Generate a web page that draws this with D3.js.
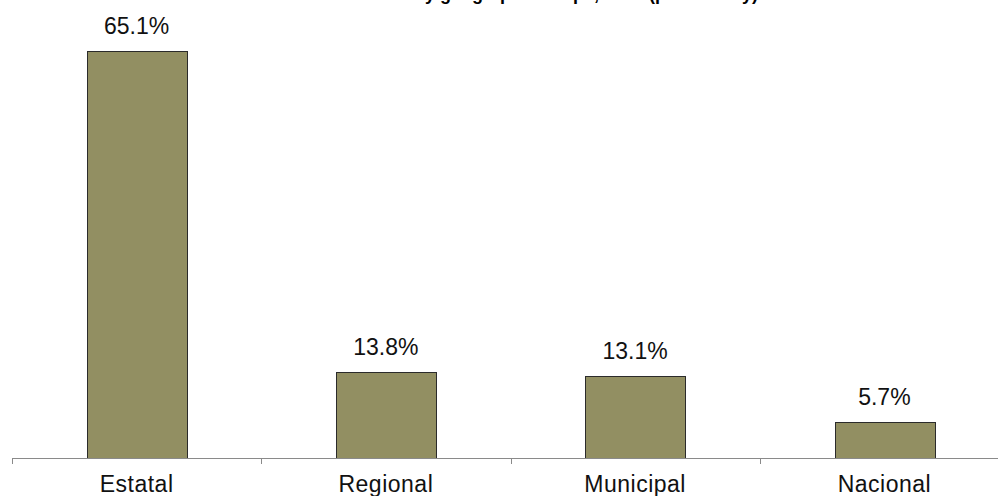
<!DOCTYPE html>
<html><head><meta charset="utf-8">
<script src="https://cdn.jsdelivr.net/npm/d3@7"></script>
<style>html,body{margin:0;padding:0;background:#fff;}svg{display:block;}</style>
</head><body>
<script>
const categories = ["Estatal", "Regional", "Municipal", "Nacional"];
const values = [65.1, 13.8, 13.1, 5.7];
const labels = ["65.1%", "13.8%", "13.1%", "5.7%"];
const title = "Distribution by geographic scope, 2012 (preliminary)";

const W = 998, H = 496;
const svg = d3.select("body").append("svg").attr("width", W).attr("height", H);

const x = d3.scaleBand().domain(categories).range([12, 1009]).paddingInner(0.6).paddingOuter(0.3);
const y = d3.scaleLinear().domain([0, 65.1]).range([458, 51]);

svg.append("text").attr("x", 533).attr("y", 0).attr("text-anchor", "middle")
  .attr("font-family", "Liberation Sans, Arial, sans-serif").attr("font-weight", "bold")
  .attr("font-size", 18).attr("fill", "#000").text(title);

svg.selectAll("rect.bar").data(values).join("rect").attr("class", "bar")
  .attr("x", (d, i) => Math.round(x(categories[i])) + 0.5)
  .attr("y", d => Math.round(y(d)) + 0.5)
  .attr("width", Math.round(x.bandwidth()))
  .attr("height", d => Math.round(y(0)) - Math.round(y(d)))
  .attr("fill", "#928f62").attr("stroke", "#2b2b2b").attr("stroke-width", 1);

svg.selectAll("text.val").data(values).join("text").attr("class", "val")
  .attr("x", (d, i) => x(categories[i]) + x.bandwidth() / 2)
  .attr("y", d => y(d) - 17)
  .attr("text-anchor", "middle")
  .attr("font-family", "Liberation Sans, Arial, sans-serif").attr("font-size", 23)
  .attr("fill", "#111").text((d, i) => labels[i]);

const xAxis = d3.axisBottom(x).tickSize(0).tickFormat(() => "");
const axisG = svg.append("g").attr("transform", "translate(0,458.5)").call(xAxis);
axisG.select(".domain").attr("stroke", "#8a8a8a").attr("d", "M12,0H998");

// category boundary ticks
const bounds = d3.range(categories.length + 1).map(i => 12 + i * x.step());
svg.selectAll("line.tk").data(bounds).join("line").attr("class", "tk")
  .attr("x1", d => Math.round(d) + 0.5).attr("x2", d => Math.round(d) + 0.5)
  .attr("y1", 458.5).attr("y2", 464).attr("stroke", "#8a8a8a");

svg.selectAll("text.cat").data(categories).join("text").attr("class", "cat")
  .attr("x", d => x(d) + x.bandwidth() / 2)
  .attr("y", 492)
  .attr("text-anchor", "middle")
  .attr("font-family", "Liberation Sans, Arial, sans-serif").attr("font-size", 23)
  .attr("letter-spacing", 0.5)
  .attr("fill", "#111").text(d => d);
</script>
</body></html>
